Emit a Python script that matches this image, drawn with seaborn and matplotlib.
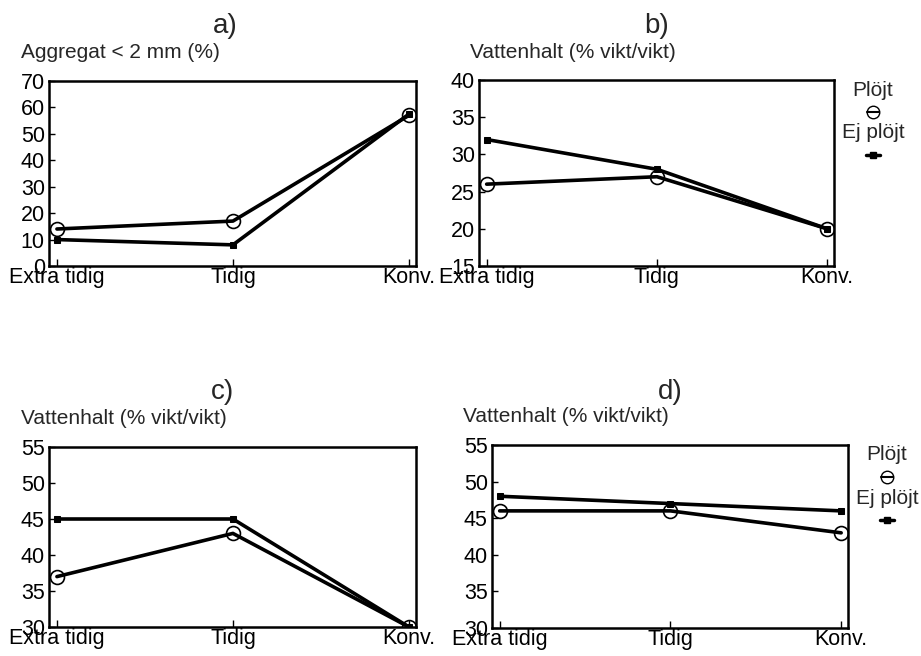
import matplotlib
matplotlib.use("Agg")
import matplotlib.pyplot as plt
from matplotlib.lines import Line2D
import seaborn as sns
import pandas as pd

sns.set_theme(style="white")
plt.rcParams['font.family'] = ['Liberation Sans', 'DejaVu Sans']

categories = ["Extra tidig", "Tidig", "Konv."]
series_names = ["Plöjt", "Ej plöjt"]

a_plojt = [14, 17, 57]
a_ej = [10, 8, 57.5]
b_plojt = [26, 27, 20]
b_ej = [32, 28, 20]
c_plojt = [37, 43, 30]
c_ej = [45, 45, 30]
d_plojt = [46, 46, 43]
d_ej = [48, 47, 46]

panel_titles = ["a)", "b)", "c)", "d)"]
panel_ylabels = ["Aggregat < 2 mm (%)", "Vattenhalt (% vikt/vikt)",
                 "Vattenhalt (% vikt/vikt)", "Vattenhalt (% vikt/vikt)"]
ylims = [(0, 70), (15, 40), (30, 55), (30, 55)]
yticks = [list(range(0, 71, 10)), list(range(15, 41, 5)),
          list(range(30, 56, 5)), list(range(30, 56, 5))]
data = [(a_plojt, a_ej), (b_plojt, b_ej), (c_plojt, c_ej), (d_plojt, d_ej)]

W, H = 921, 656
fig = plt.figure(figsize=(W / 100, H / 100), dpi=100)

# axes boxes in pixels: left, top, right, bottom
boxes = [(49, 81, 416, 266), (479, 80, 834, 266),
         (49, 447, 416, 627), (492, 445, 848, 628)]

def fx(px):
    return px / W

def fy(py):
    return 1 - py / H

FS = 15.5
LFS = 15
for i, ((l, t, r, b), (pl, ej)) in enumerate(zip(boxes, data)):
    ax = fig.add_axes([fx(l), fy(b), fx(r) - fx(l), fy(t) - fy(b)])
    df = pd.DataFrame({"x": list(range(3)) * 2,
                       "y": pl + ej,
                       "serie": [series_names[0]] * 3 + [series_names[1]] * 3})
    sns.lineplot(data=df[df.serie == "Plöjt"], x="x", y="y", ax=ax, color="black",
                 lw=2.6, marker="o", markersize=10, markerfacecolor="none",
                 markeredgecolor="black", markeredgewidth=1.2, legend=False, zorder=3)
    sns.lineplot(data=df[df.serie == "Ej plöjt"], x="x", y="y", ax=ax, color="black",
                 lw=2.6, marker="s", markersize=5, markerfacecolor="black",
                 markeredgecolor="black", legend=False, zorder=4)
    ax.set_xlim(-0.045, 2.04)
    ax.set_ylim(*ylims[i])
    ax.set_yticks(yticks[i])
    ax.set_xticks(range(3))
    ax.set_xticklabels(categories)
    ax.set_xlabel("")
    ax.set_ylabel("")
    ax.tick_params(axis="y", direction="in", length=4, width=1, pad=3,
                   labelsize=FS, left=True, colors="black")
    ax.tick_params(axis="x", direction="in", length=5, width=1, pad=1,
                   labelsize=FS, bottom=True, colors="black")
    for sp in ax.spines.values():
        sp.set_color("black")
        sp.set_linewidth(1.8)
    ax.patch.set_alpha(0)

# titles and y labels
title_pos = [(225, 26), (657, 26), (222, 392), (670, 392)]
label_pos = [(21, 53), (470, 53), (21, 418), (463, 416)]
for i in range(4):
    fig.text(fx(title_pos[i][0]), fy(title_pos[i][1]), panel_titles[i],
             ha="center", va="center", fontsize=20)
    fig.text(fx(label_pos[i][0]), fy(label_pos[i][1]), panel_ylabels[i],
             ha="left", va="center", fontsize=LFS)

# legends beside panels b and d
legend_pos = [(873, 90), (887, 455)]
for (cx, cy) in legend_pos:
    fig.text(fx(cx), fy(cy), series_names[0], ha="center", va="center", fontsize=LFS)
    fig.add_artist(Line2D([fx(cx - 6), fx(cx), fx(cx + 6)], [fy(cy + 22)] * 3,
                          transform=fig.transFigure, color="black", lw=1.5,
                          marker="o", markevery=[1], markersize=9,
                          markerfacecolor="none", markeredgecolor="black"))
    fig.text(fx(cx), fy(cy + 43), series_names[1], ha="center", va="center", fontsize=LFS)
    fig.add_artist(Line2D([fx(cx - 7), fx(cx), fx(cx + 7)], [fy(cy + 65)] * 3,
                          transform=fig.transFigure, color="black", lw=2.5,
                          marker="s", markevery=[1], markersize=5,
                          markerfacecolor="black", markeredgecolor="black"))

fig.savefig("out.png", dpi=100, facecolor="white")
